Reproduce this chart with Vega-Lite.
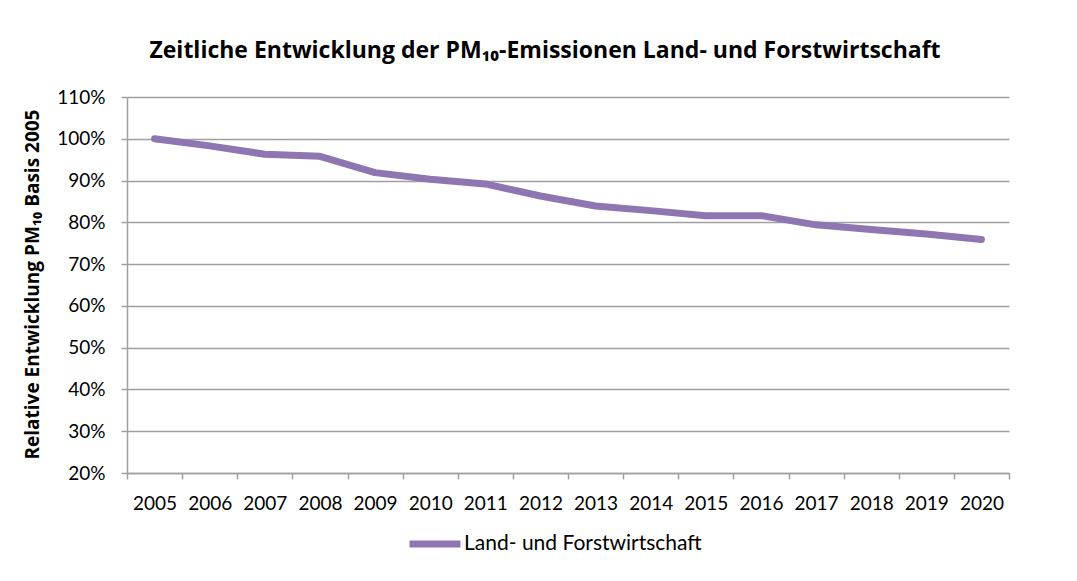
{
  "$schema": "https://vega.github.io/schema/vega-lite/v6.json",
  "width": 882,
  "height": 376,
  "autosize": {"type": "none"},
  "padding": {"left": 127, "top": 97, "right": 68, "bottom": 108},
  "background": "white",
  "config": {"font": "Lato", "view": {"stroke": null}},
  "title": {
    "text": "Zeitliche Entwicklung der PM₁₀-Emissionen Land- und Forstwirtschaft",
    "font": "Open Sans",
    "fontSize": 23,
    "fontWeight": "bold",
    "color": "black",
    "anchor": "middle",
    "dx": -23,
    "offset": 25
  },
  "data": {
    "values": [
      {"year": "2005", "value": 1.000, "series": "Land- und Forstwirtschaft"},
      {"year": "2006", "value": 0.983, "series": "Land- und Forstwirtschaft"},
      {"year": "2007", "value": 0.963, "series": "Land- und Forstwirtschaft"},
      {"year": "2008", "value": 0.958, "series": "Land- und Forstwirtschaft"},
      {"year": "2009", "value": 0.919, "series": "Land- und Forstwirtschaft"},
      {"year": "2010", "value": 0.903, "series": "Land- und Forstwirtschaft"},
      {"year": "2011", "value": 0.892, "series": "Land- und Forstwirtschaft"},
      {"year": "2012", "value": 0.863, "series": "Land- und Forstwirtschaft"},
      {"year": "2013", "value": 0.839, "series": "Land- und Forstwirtschaft"},
      {"year": "2014", "value": 0.828, "series": "Land- und Forstwirtschaft"},
      {"year": "2015", "value": 0.816, "series": "Land- und Forstwirtschaft"},
      {"year": "2016", "value": 0.816, "series": "Land- und Forstwirtschaft"},
      {"year": "2017", "value": 0.794, "series": "Land- und Forstwirtschaft"},
      {"year": "2018", "value": 0.783, "series": "Land- und Forstwirtschaft"},
      {"year": "2019", "value": 0.772, "series": "Land- und Forstwirtschaft"},
      {"year": "2020", "value": 0.759, "series": "Land- und Forstwirtschaft"}
    ]
  },
  "mark": {"type": "line", "strokeWidth": 7, "strokeCap": "round", "strokeJoin": "round"},
  "encoding": {
    "x": {
      "field": "year",
      "type": "ordinal",
      "bandPosition": 0.5,
      "scale": {"type": "band", "paddingInner": 0, "paddingOuter": 0},
      "axis": {
        "title": null,
        "labelAngle": 0,
        "tickBand": "extent",
        "grid": false,
        "domainColor": "#A0A0A0",
        "domainWidth": 1.5,
        "tickColor": "#A0A0A0",
        "tickWidth": 1.5,
        "tickSize": 6,
        "labelFont": "Lato",
        "labelFontSize": 19,
        "labelColor": "black",
        "labelPadding": 15
      }
    },
    "y": {
      "field": "value",
      "type": "quantitative",
      "scale": {"domain": [0.2, 1.1], "nice": false, "zero": false},
      "axis": {
        "title": "Relative Entwicklung PM₁₀ Basis 2005",
        "titleFont": "Open Sans",
        "titleFontSize": 19,
        "titleFontWeight": "bold",
        "titleColor": "black",
        "titleAngle": -90,
        "titleX": -89,
        "titleY": 187,
        "titleAlign": "center",
        "titleBaseline": "alphabetic",
        "format": ".0%",
        "values": [0.2, 0.3, 0.4, 0.5, 0.6, 0.7, 0.8, 0.9, 1.0, 1.1],
        "grid": true,
        "gridColor": "#A0A0A0",
        "gridWidth": 1.5,
        "domainColor": "#A0A0A0",
        "domainWidth": 1.5,
        "tickColor": "#A0A0A0",
        "tickWidth": 1.5,
        "tickSize": 6,
        "labelFont": "Lato",
        "labelFontSize": 19,
        "labelColor": "black",
        "labelPadding": 16
      }
    },
    "color": {
      "field": "series",
      "type": "nominal",
      "scale": {"range": ["#8E76B2"]},
      "legend": {
        "title": null,
        "orient": "none",
        "legendX": 279,
        "legendY": 418,
        "symbolType": "stroke",
        "symbolSize": 2601,
        "symbolStrokeWidth": 7,
        "labelFont": "Lato",
        "labelFontSize": 21,
        "labelColor": "black",
        "labelOffset": 0,
        "labelLimit": 400
      }
    }
  }
}
